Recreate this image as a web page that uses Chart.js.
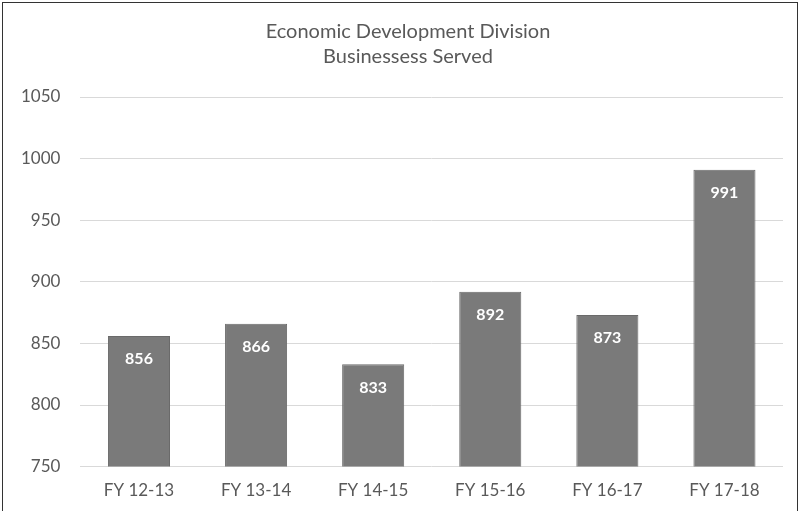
<!DOCTYPE html>
<html>
<head>
<meta charset="utf-8">
<script src="https://cdn.jsdelivr.net/npm/chart.js@4.4.1/dist/chart.umd.min.js"></script>
<style>
  html, body { margin: 0; padding: 0; background: #fff; }
  #wrap { position: relative; width: 802px; height: 511px; overflow: hidden; }
  #frame { position: absolute; left: 2px; top: 2px; width: 796px; height: 520px; border: 1px solid #333; box-sizing: border-box; pointer-events: none; }
  canvas { position: absolute; left: 0; top: 0; }
</style>
</head>
<body>
<div id="wrap">
  <canvas id="chart" width="802" height="511"></canvas>
  <div id="frame"></div>
</div>
<script>
// Businesses served per fiscal year
const years  = ['FY 12-13', 'FY 13-14', 'FY 14-15', 'FY 15-16', 'FY 16-17', 'FY 17-18'];
const served = [856, 866, 833, 892, 873, 991];
const titleLines = ['Economic Development Division', 'Businessess Served'];

const FONT = 'Lato, "Open Sans", sans-serif';
const TEXT = '#595959';

// two-line heading, centred over the whole frame rather than the plot
const heading = {
  id: 'heading',
  afterDraw(chart) {
    const ctx = chart.ctx;
    ctx.save();
    ctx.fillStyle = TEXT;
    ctx.font = '20px ' + FONT;
    ctx.textAlign = 'center';
    ctx.textBaseline = 'middle';
    titleLines.forEach((line, i) => ctx.fillText(line, 408, 32 + i * 25));
    ctx.restore();
  }
};

// white value labels just inside the top of each bar
const barLabels = {
  id: 'barLabels',
  afterDatasetsDraw(chart) {
    const ctx = chart.ctx;
    const meta = chart.getDatasetMeta(0);
    ctx.save();
    ctx.fillStyle = '#fff';
    ctx.font = 'bold 16px ' + FONT;
    ctx.textAlign = 'center';
    ctx.textBaseline = 'middle';
    meta.data.forEach((bar, i) => {
      ctx.fillText(served[i], bar.x, bar.y + 23);
    });
    ctx.restore();
  }
};

new Chart(document.getElementById('chart'), {
  type: 'bar',
  data: {
    labels: years,
    datasets: [{
      data: served,
      backgroundColor: '#7a7a7a',
      borderColor: '#6a6a6a',
      borderWidth: 1,
      categoryPercentage: 1,
      barPercentage: 0.53,
    }],
  },
  options: {
    responsive: false,
    animation: false,
    layout: { padding: { left: 1, right: 19, top: 97, bottom: -4 } },
    plugins: {
      legend: { display: false },
      tooltip: { enabled: false },
      title: { display: false },
    },
    scales: {
      x: {
        grid: { display: false, drawTicks: false },
        border: { display: false },
        ticks: { color: TEXT, font: { family: FONT, size: 17 }, padding: 14 },
      },
      y: {
        min: 750,
        max: 1050,
        ticks: {
          stepSize: 50,
          color: TEXT,
          font: { family: FONT, size: 17 },
          padding: 20,
          callback: v => String(v),
        },
        grid: { color: '#d9d9d9', lineWidth: 1, drawTicks: false },
        border: { display: false },
      },
    },
  },
  plugins: [barLabels, heading],
});
</script>
</body>
</html>
